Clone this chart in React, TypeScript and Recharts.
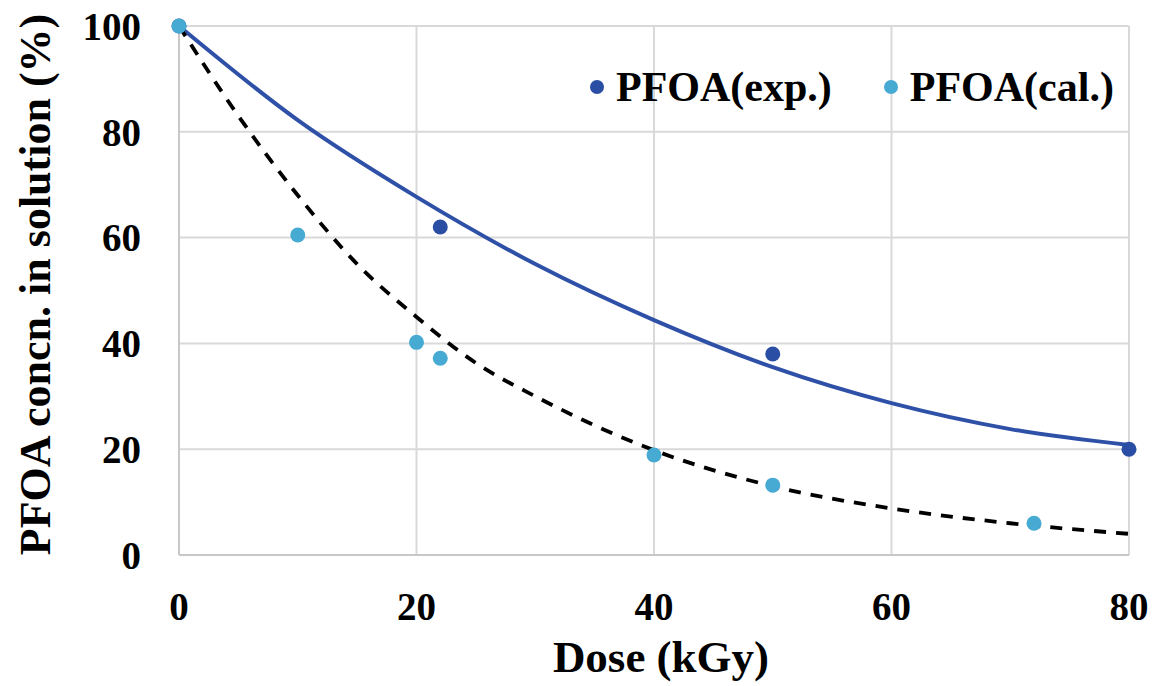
import {
  ComposedChart,
  Line,
  Scatter,
  XAxis,
  YAxis,
  CartesianGrid,
  Legend,
} from "recharts";

const FONT = "Liberation Serif";
const EXP_COLOR = "#2A4EA3";
const CAL_COLOR = "#47AAD3";

// Measured points
const expDose = [0, 22, 50, 80];
const expConc = [100, 62, 38, 20];
const calDose = [0, 10, 20, 22, 40, 50, 72];
const calConc = [100, 60.5, 40.2, 37.2, 18.9, 13.2, 6];

// Trend lines
const expFitDose = [0, 10, 20, 30, 40, 50, 60, 70, 80];
const expFitConc = [100, 82.2, 67.7, 55, 44.4, 35.5, 28.7, 23.8, 20.8];
const calFitDose = [0, 5, 10, 15, 20, 25, 30, 35, 40, 50, 60, 70, 80];
const calFitConc = [100, 83, 68, 55, 45, 36.3, 30, 24.5, 19.8, 13, 8.8, 6, 4];

const xTicks = [0, 20, 40, 60, 80];
const yTicks = [0, 20, 40, 60, 80, 100];

const pairs = (xs: number[], ys: number[]) =>
  xs.map((x, i) => ({ x, y: ys[i] }));

const expData = pairs(expDose, expConc);
const calData = pairs(calDose, calConc);
const expFit = pairs(expFitDose, expFitConc);
const calFit = pairs(calFitDose, calFitConc);

const tickStyle = {
  fill: "#000",
  fontSize: 39,
  fontWeight: 700,
  fontFamily: FONT,
};

function YTitle({ viewBox }: any) {
  const x = viewBox.x + 50;
  const y = viewBox.y + viewBox.height / 2 - 6;
  return (
    <text
      x={x}
      y={y}
      transform={`rotate(-90 ${x} ${y})`}
      textAnchor="middle"
      fontFamily={FONT}
      fontWeight={700}
      fontSize={44}
      fill="#000"
    >
      PFOA concn. in solution (%)
    </text>
  );
}

function XTitle({ viewBox }: any) {
  return (
    <text
      x={viewBox.x + viewBox.width / 2 + 7}
      y={viewBox.y + 117}
      textAnchor="middle"
      fontFamily={FONT}
      fontWeight={700}
      fontSize={45}
      fill="#000"
    >
      Dose (kGy)
    </text>
  );
}

function LegendBox() {
  const items = [
    { name: "PFOA(exp.)", color: EXP_COLOR },
    { name: "PFOA(cal.)", color: CAL_COLOR },
  ];
  return (
    <div style={{ display: "flex", alignItems: "center", fontFamily: FONT }}>
      {items.map((it, i) => (
        <div
          key={it.name}
          style={{
            display: "flex",
            alignItems: "center",
            marginLeft: i === 0 ? 0 : 52,
          }}
        >
          <span
            style={{
              display: "inline-block",
              width: 14,
              height: 14,
              borderRadius: "50%",
              backgroundColor: it.color,
              marginRight: 12,
            }}
          />
          <span
            style={{
              fontSize: 42,
              fontWeight: 700,
              color: "#000",
              lineHeight: "50px",
            }}
          >
            {it.name}
          </span>
        </div>
      ))}
    </div>
  );
}

const dot = (color: string) => (p: any) =>
  <circle cx={p.cx} cy={p.cy} r={7.5} fill={color} />;

export default function App() {
  return (
    <div style={{ position: "absolute", left: 0, top: 0, background: "#fff" }}>
      <ComposedChart
        width={1153}
        height={686}
        margin={{ top: 26, right: 24, bottom: 0, left: 0 }}
      >
        <CartesianGrid stroke="#D9D9D9" strokeWidth={2} />
        <XAxis
          type="number"
          dataKey="x"
          domain={[0, 80]}
          ticks={xTicks}
          height={131}
          tickSize={0}
          tickMargin={37}
          tick={tickStyle}
          axisLine={{ stroke: "#C8C8C8", strokeWidth: 2 }}
          label={<XTitle />}
        />
        <YAxis
          type="number"
          domain={[0, 100]}
          ticks={yTicks}
          width={179}
          tickSize={0}
          tickMargin={38}
          tick={tickStyle}
          axisLine={{ stroke: "#C8C8C8", strokeWidth: 2 }}
          label={<YTitle />}
        />
        <Legend
          verticalAlign="middle"
          align="center"
          content={<LegendBox />}
          wrapperStyle={{ top: 62, left: 590, width: "auto" }}
        />
        <Line
          data={expFit}
          dataKey="y"
          type="monotone"
          stroke="#2E51A7"
          strokeWidth={4}
          dot={false}
          activeDot={false}
          isAnimationActive={false}
        />
        <Scatter
          data={expData}
          dataKey="y"
          shape={dot(EXP_COLOR)}
          isAnimationActive={false}
        />
        <Scatter
          data={calData}
          dataKey="y"
          shape={dot(CAL_COLOR)}
          isAnimationActive={false}
        />
        <Line
          data={calFit}
          dataKey="y"
          type="monotone"
          stroke="#000"
          strokeWidth={3.8}
          strokeDasharray="12 10"
          dot={false}
          activeDot={false}
          isAnimationActive={false}
        />
      </ComposedChart>
    </div>
  );
}
